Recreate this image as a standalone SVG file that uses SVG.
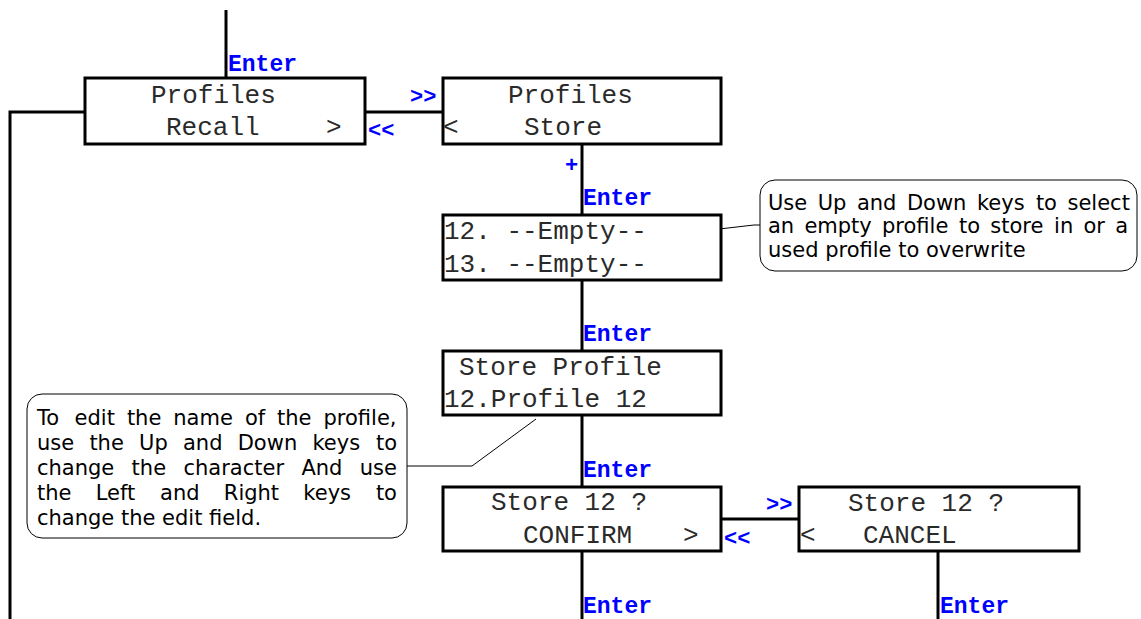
<svg xmlns="http://www.w3.org/2000/svg" width="1141" height="619" viewBox="0 0 1141 619">
<style>
.box{fill:#fff;stroke:#000;stroke-width:3}
.con{fill:none;stroke:#000;stroke-width:3}
.thin{fill:none;stroke:#000;stroke-width:1}
.call{fill:#fff;stroke:#000;stroke-width:1}
.lcd{font-family:"Liberation Mono","Courier New",monospace;font-size:26px;fill:#2a2a2a}
.key{font-family:"Liberation Mono","Courier New",monospace;font-size:22px;font-weight:bold;fill:#0000ff}
.ent{font-size:23px}
.note{font-family:"DejaVu Sans",Verdana,sans-serif;font-size:21px;fill:#000}
</style>
<rect width="1141" height="619" fill="#fff"/>
<g id="connectors">
<line class="con" x1="226" y1="10" x2="226" y2="78"/>
<polyline class="con" points="85,112 10,112 10,619"/>
<line class="con" x1="364" y1="112" x2="443" y2="112"/>
<line class="con" x1="582" y1="143" x2="582" y2="215"/>
<line class="con" x1="582" y1="280" x2="582" y2="351"/>
<line class="con" x1="582" y1="415" x2="582" y2="487"/>
<line class="con" x1="582" y1="551" x2="582" y2="619"/>
<line class="con" x1="721" y1="519" x2="799" y2="519"/>
<line class="con" x1="938" y1="551" x2="938" y2="619"/>
<polyline class="thin" points="693,232 754,225 760,225"/>
<polyline class="thin" points="407,466 472,466 536,419"/>
</g>
<g id="labels">
<text class="key ent" x="228" y="71">Enter</text>
<text class="key" x="410" y="103">&gt;&gt;</text>
<text class="key" x="368" y="137">&lt;&lt;</text>
<text class="key" x="565" y="172">+</text>
<text class="key ent" x="583" y="205">Enter</text>
<text class="key ent" x="583" y="341">Enter</text>
<text class="key ent" x="583" y="477">Enter</text>
<text class="key" x="766" y="511">&gt;&gt;</text>
<text class="key" x="724" y="545">&lt;&lt;</text>
<text class="key ent" x="583" y="613">Enter</text>
<text class="key ent" x="940" y="613">Enter</text>
</g>
<g id="node-recall">
<rect class="box" x="85" y="78" width="280" height="66"/>
<text class="lcd" x="151" y="103">Profiles</text>
<text class="lcd" x="166" y="135">Recall</text>
<text class="lcd" x="326" y="135">&gt;</text>
</g>
<g id="node-store">
<rect class="box" x="443" y="78" width="278" height="66"/>
<text class="lcd" x="508" y="103">Profiles</text>
<text class="lcd" x="443" y="135">&lt;</text>
<text class="lcd" x="524" y="135">Store</text>
</g>
<g id="node-empty">
<rect class="box" x="443" y="215" width="278" height="65"/>
<text class="lcd" x="444" y="239">12. --Empty--</text>
<text class="lcd" x="444" y="272">13. --Empty--</text>
</g>
<g id="node-storeprofile">
<rect class="box" x="443" y="351" width="278" height="64"/>
<text class="lcd" x="459" y="375">Store Profile</text>
<text class="lcd" x="444" y="407">12.Profile 12</text>
</g>
<g id="node-confirm">
<rect class="box" x="443" y="487" width="278" height="64"/>
<text class="lcd" x="491" y="510">Store 12 ?</text>
<text class="lcd" x="523" y="543">CONFIRM</text>
<text class="lcd" x="683" y="543">&gt;</text>
</g>
<g id="node-cancel">
<rect class="box" x="799" y="487" width="280" height="64"/>
<text class="lcd" x="848" y="511">Store 12 ?</text>
<text class="lcd" x="800" y="543">&lt;</text>
<text class="lcd" x="863" y="543">CANCEL</text>
</g>
<g id="note-select">
<rect class="call" x="760" y="180" width="377" height="91" rx="15"/>
<text class="note" y="210"><tspan x="768">Use</tspan><tspan x="817.7">Up</tspan><tspan x="856.9">and</tspan><tspan x="906.9">Down</tspan><tspan x="976.9">keys</tspan><tspan x="1035.9">to</tspan><tspan x="1067.5">select</tspan></text>
<text class="note" y="233"><tspan x="768">an</tspan><tspan x="804.4">empty</tspan><tspan x="882">profile</tspan><tspan x="959">to</tspan><tspan x="990.3">store</tspan><tspan x="1054.1">in</tspan><tspan x="1083.5">or</tspan><tspan x="1115.2">a</tspan></text>
<text class="note" x="768" y="257">used profile to overwrite</text>
</g>
<g id="note-edit">
<rect class="call" x="27" y="394" width="380" height="144" rx="15"/>
<text class="note" y="425"><tspan x="37">To</tspan><tspan x="74.6">edit</tspan><tspan x="126.9">the</tspan><tspan x="173.3">name</tspan><tspan x="244.9">of</tspan><tspan x="277">the</tspan><tspan x="323.5">profile,</tspan></text>
<text class="note" y="450"><tspan x="37">use</tspan><tspan x="89.4">the</tspan><tspan x="139.1">Up</tspan><tspan x="183">and</tspan><tspan x="237.7">Down</tspan><tspan x="312.4">keys</tspan><tspan x="376">to</tspan></text>
<text class="note" y="475"><tspan x="37">change</tspan><tspan x="131.6">the</tspan><tspan x="183.5">character</tspan><tspan x="301.4">And</tspan><tspan x="359.8">use</tspan></text>
<text class="note" y="500"><tspan x="37">the</tspan><tspan x="95.7">Left</tspan><tspan x="160.1">and</tspan><tspan x="223.8">Right</tspan><tspan x="303.3">keys</tspan><tspan x="375.9">to</tspan></text>
<text class="note" x="37" y="525">change the edit field.</text>
</g>
</svg>
